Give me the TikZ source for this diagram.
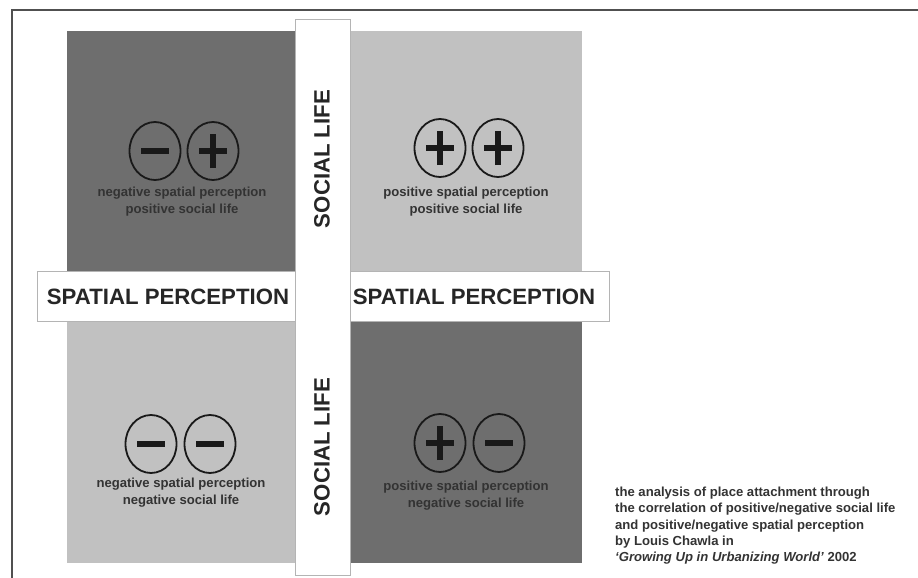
\documentclass[tikz,border=0pt]{standalone}
\usepackage{fontspec}
\usetikzlibrary{shapes.geometric}
\setmainfont{Liberation Sans}
\begin{document}
\begin{tikzpicture}[x=1pt,y=-1pt,
  darkq/.style={fill=qdark,draw=none},
  lightq/.style={fill=qlight,draw=none},
  strip/.style={fill=white,draw=stripline,line width=0.8pt},
  biglabel/.style={font=\bfseries\fontsize{22.2}{27}\selectfont,inner sep=0pt,text=black!85},
  smalllabel/.style={font=\bfseries\fontsize{13.1}{17}\selectfont,align=center,inner sep=0pt,text=black!80},
  signring/.style={draw=black!90,line width=1.8pt,ellipse,minimum width=51pt,minimum height=58pt,inner sep=0pt},
  signbar/.style={line width=6pt,black!90},
]
\definecolor{qdark}{HTML}{6E6E6E}
\definecolor{qlight}{HTML}{C1C1C1}
\definecolor{stripline}{HTML}{B4B4B4}
\definecolor{framecol}{HTML}{505050}
\useasboundingbox (0,0) rectangle (918,578);
\fill[white] (0,0) rectangle (918,578);
% outer frame (open to the right and bottom)
\draw[framecol,line width=2pt] (12,578) -- (12,10) -- (918,10);
% quadrants
\path[darkq] (67,31) rectangle (296,271);
\path[lightq] (350,31) rectangle (582,271);
\path[lightq] (67,322) rectangle (296,563);
\path[darkq] (350,322) rectangle (582,563);
% strips
\draw[strip] (37,271) rectangle (609,321);
\draw[strip] (295,19) rectangle (350,575);
% strip labels
\node[biglabel] (spl) at (168,297) {SPATIAL PERCEPTION};
\node[biglabel] (spr) at (474,297) {SPATIAL PERCEPTION};
\node[biglabel,rotate=90] (slt) at (322,159) {SOCIAL LIFE};
\node[biglabel,rotate=90] (slb) at (322,447) {SOCIAL LIFE};
% sign rings
\node[signring] (tl1) at (155,151) {};
\node[signring] (tl2) at (213,151) {};
\node[signring] (tr1) at (440,148) {};
\node[signring] (tr2) at (498,148) {};
\node[signring] (bl1) at (151,444) {};
\node[signring] (bl2) at (210,444) {};
\node[signring] (br1) at (440,443) {};
\node[signring] (br2) at (499,443) {};
% signs
\draw[signbar] ([xshift=-14pt]tl1.center) -- ([xshift=14pt]tl1.center);
\draw[signbar] ([xshift=-14pt]tl2.center) -- ([xshift=14pt]tl2.center);
\draw[signbar] ([yshift=-17pt]tl2.center) -- ([yshift=17pt]tl2.center);
\draw[signbar] ([xshift=-14pt]tr1.center) -- ([xshift=14pt]tr1.center);
\draw[signbar] ([yshift=-17pt]tr1.center) -- ([yshift=17pt]tr1.center);
\draw[signbar] ([xshift=-14pt]tr2.center) -- ([xshift=14pt]tr2.center);
\draw[signbar] ([yshift=-17pt]tr2.center) -- ([yshift=17pt]tr2.center);
\draw[signbar] ([xshift=-14pt]bl1.center) -- ([xshift=14pt]bl1.center);
\draw[signbar] ([xshift=-14pt]bl2.center) -- ([xshift=14pt]bl2.center);
\draw[signbar] ([xshift=-14pt]br1.center) -- ([xshift=14pt]br1.center);
\draw[signbar] ([yshift=-17pt]br1.center) -- ([yshift=17pt]br1.center);
\draw[signbar] ([xshift=-14pt]br2.center) -- ([xshift=14pt]br2.center);
% quadrant texts
\node[smalllabel] (ttl) at (182,202) {negative spatial perception\\positive social life};
\node[smalllabel] (ttr) at (466,202) {positive spatial perception\\positive social life};
\node[smalllabel] (tbl) at (181,493) {negative spatial perception\\negative social life};
\node[smalllabel] (tbr) at (466,496) {positive spatial perception\\negative social life};
% caption
\node[anchor=north west,inner sep=0pt,align=left,font=\bfseries\fontsize{13.1}{16.3}\selectfont,text=black!80] (cap) at (615,487)
 {the analysis of place attachment through\\
  the correlation of positive/negative social life\\
  and positive/negative spatial perception\\
  by Louis Chawla in\\
  \textit{`Growing Up in Urbanizing World'} 2002};
\end{tikzpicture}
\end{document}
